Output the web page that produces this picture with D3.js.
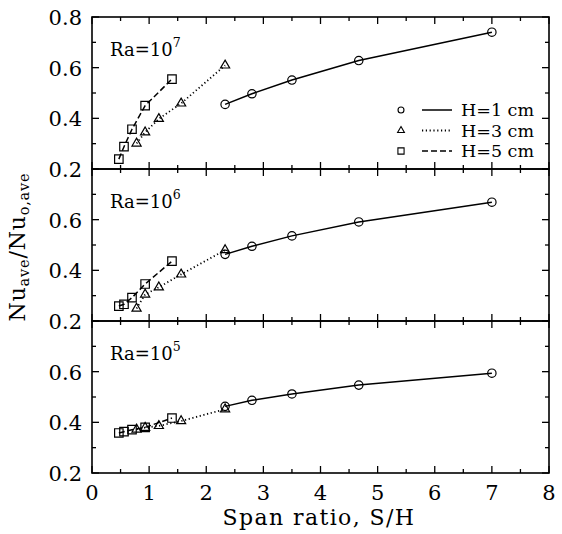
<!DOCTYPE html>
<html>
<head>
<meta charset="utf-8">
<script src="https://cdn.jsdelivr.net/npm/d3@7"></script>
<style>
  body { margin: 0; background: #fff; }
  svg text { font-family: "DejaVu Serif", "Liberation Serif", serif; fill: #000; }
</style>
</head>
<body>
<div id="chart"></div>
<script>
// span ratio S/H for each cavity height
const spanH1 = [2.33, 2.80, 3.50, 4.67, 7.00];
const spanH3 = [0.78, 0.93, 1.17, 1.56, 2.33];
const spanH5 = [0.47, 0.56, 0.70, 0.93, 1.40];

// Nu_ave / Nu_o,ave, one array per panel and height
const ra7H1 = [0.455, 0.497, 0.551, 0.628, 0.740];
const ra7H3 = [0.301, 0.345, 0.398, 0.459, 0.609];
const ra7H5 = [0.239, 0.288, 0.357, 0.450, 0.555];

const ra6H1 = [0.463, 0.495, 0.536, 0.591, 0.669];
const ra6H3 = [0.249, 0.305, 0.333, 0.384, 0.480];
const ra6H5 = [0.259, 0.266, 0.292, 0.346, 0.436];

const ra5H1 = [0.463, 0.487, 0.512, 0.547, 0.594];
const ra5H3 = [0.372, 0.379, 0.386, 0.405, 0.452];
const ra5H5 = [0.358, 0.363, 0.371, 0.380, 0.417];

const raExponents = ['7', '6', '5'];
const seriesNames = ['H=1 cm', 'H=3 cm', 'H=5 cm'];
const xTickValues = [0, 1, 2, 3, 4, 5, 6, 7, 8];
const yTickValues = [0.2, 0.4, 0.6, 0.8];
const xTitle = 'Span ratio, S/H';

const panelData = [
  [ra7H1, ra7H3, ra7H5],
  [ra6H1, ra6H3, ra6H5],
  [ra5H1, ra5H3, ra5H5],
];
const spans = [spanH1, spanH3, spanH5];

const width = 562;
const height = 534;
const margin = { top: 17, left: 92, right: 13, bottom: 61 };
const plotW = width - margin.left - margin.right;
const panelH = (height - margin.top - margin.bottom) / 3;

const svg = d3.select('#chart').append('svg')
  .attr('width', width)
  .attr('height', height);

const x = d3.scaleLinear().domain([0, 8]).range([margin.left, margin.left + plotW]);

const symbols = [d3.symbolCircle, d3.symbolTriangle, d3.symbolSquare];
const symbolSizes = [55, 36, 72];
const dashes = [null, '1.2,2.6', '6,3'];

panelData.forEach((series, p) => {
  const top = margin.top + p * panelH;
  const y = d3.scaleLinear().domain([0.2, 0.8]).range([top + panelH, top]);
  const g = svg.append('g');

  // ticks on all four sides, pointing inward
  const minorX = d3.range(0, 8.01, 0.5);
  const minorY = d3.range(0.2, 0.801, 0.1);
  minorX.forEach((v) => {
    const len = Math.abs(v - Math.round(v)) < 1e-6 ? 7 : 4;
    g.append('line').attr('x1', x(v)).attr('x2', x(v))
      .attr('y1', top + panelH).attr('y2', top + panelH - len)
      .attr('stroke', '#000').attr('stroke-width', 1.3);
    g.append('line').attr('x1', x(v)).attr('x2', x(v))
      .attr('y1', top).attr('y2', top + len)
      .attr('stroke', '#000').attr('stroke-width', 1.3);
  });
  minorY.forEach((v) => {
    const major = Math.abs(v * 5 - Math.round(v * 5)) < 1e-6;
    const len = major ? 7 : 4;
    g.append('line').attr('x1', margin.left).attr('x2', margin.left + len)
      .attr('y1', y(v)).attr('y2', y(v))
      .attr('stroke', '#000').attr('stroke-width', 1.3);
    g.append('line').attr('x1', margin.left + plotW).attr('x2', margin.left + plotW - len)
      .attr('y1', y(v)).attr('y2', y(v))
      .attr('stroke', '#000').attr('stroke-width', 1.3);
  });

  // frame
  g.append('rect')
    .attr('x', margin.left).attr('y', top)
    .attr('width', plotW).attr('height', panelH)
    .attr('fill', 'none').attr('stroke', '#000').attr('stroke-width', 1.6);

  // y tick labels (top label only on first panel)
  yTickValues.filter((v) => p === 0 || v < 0.8).forEach((v) => {
    g.append('text')
      .attr('x', margin.left - 10).attr('y', y(v) + 8)
      .attr('text-anchor', 'end')
      .attr('font-size', 21)
      .text(d3.format('.1f')(v));
  });

  // Ra label
  const lab = g.append('text')
    .attr('x', margin.left + 18).attr('y', top + 39)
    .attr('font-size', 18);
  lab.append('tspan').text('Ra=10');
  lab.append('tspan').attr('dy', -9).attr('font-size', 12.5).text(raExponents[p]);

  const line = d3.line().x((d) => x(d[0])).y((d) => y(d[1]));

  series.forEach((vals, s) => {
    const pts = spans[s].map((sv, i) => [sv, vals[i]]);
    g.append('path')
      .datum(pts)
      .attr('d', line)
      .attr('fill', 'none')
      .attr('stroke', '#000')
      .attr('stroke-width', s === 1 ? 1.8 : 1.5)
      .attr('stroke-dasharray', dashes[s]);
    g.selectAll(null)
      .data(pts)
      .enter().append('path')
      .attr('transform', (d) => 'translate(' + x(d[0]) + ',' + y(d[1]) + ')')
      .attr('d', d3.symbol(symbols[s], symbolSizes[s]))
      .attr('fill', 'none')
      .attr('stroke', '#000')
      .attr('stroke-width', 1.2);
  });
});

// x tick labels
const bottom = margin.top + 3 * panelH;
xTickValues.forEach((v) => {
  svg.append('text')
    .attr('x', x(v)).attr('y', bottom + 27)
    .attr('text-anchor', 'middle')
    .attr('font-size', 21)
    .text(v);
});

svg.append('text')
  .attr('x', 319).attr('y', bottom + 52)
  .attr('text-anchor', 'middle')
  .attr('font-size', 22)
  .attr('letter-spacing', 1.4)
  .text(xTitle);

// y title
const yt = svg.append('text')
  .attr('transform', 'translate(25,' + (margin.top + 1.5 * panelH + 2) + ') rotate(-90)')
  .attr('text-anchor', 'middle')
  .attr('font-size', 22)
  .attr('letter-spacing', 0.8);
yt.append('tspan').text('Nu');
yt.append('tspan').attr('dy', 4).attr('font-size', 14.5).text('ave');
yt.append('tspan').attr('dy', -4).text('/Nu');
yt.append('tspan').attr('dy', 4).attr('font-size', 14.5).text('o,ave');

// legend
const legY = [110, 130.5, 151];
const legendSizes = [28, 20, 38];
seriesNames.forEach((name, s) => {
  const lg = svg.append('g');
  lg.append('path')
    .attr('transform', 'translate(401,' + legY[s] + ')')
    .attr('d', d3.symbol(symbols[s], legendSizes[s]))
    .attr('fill', 'none').attr('stroke', '#000').attr('stroke-width', 1.1);
  lg.append('line')
    .attr('x1', 422).attr('x2', 452)
    .attr('y1', legY[s]).attr('y2', legY[s])
    .attr('stroke', '#000')
    .attr('stroke-width', s === 1 ? 1.8 : 1.5)
    .attr('stroke-dasharray', dashes[s]);
  lg.append('text')
    .attr('x', 461).attr('y', legY[s] + 6)
    .attr('font-size', 17.5)
    .text(name);
});
</script>
</body>
</html>
